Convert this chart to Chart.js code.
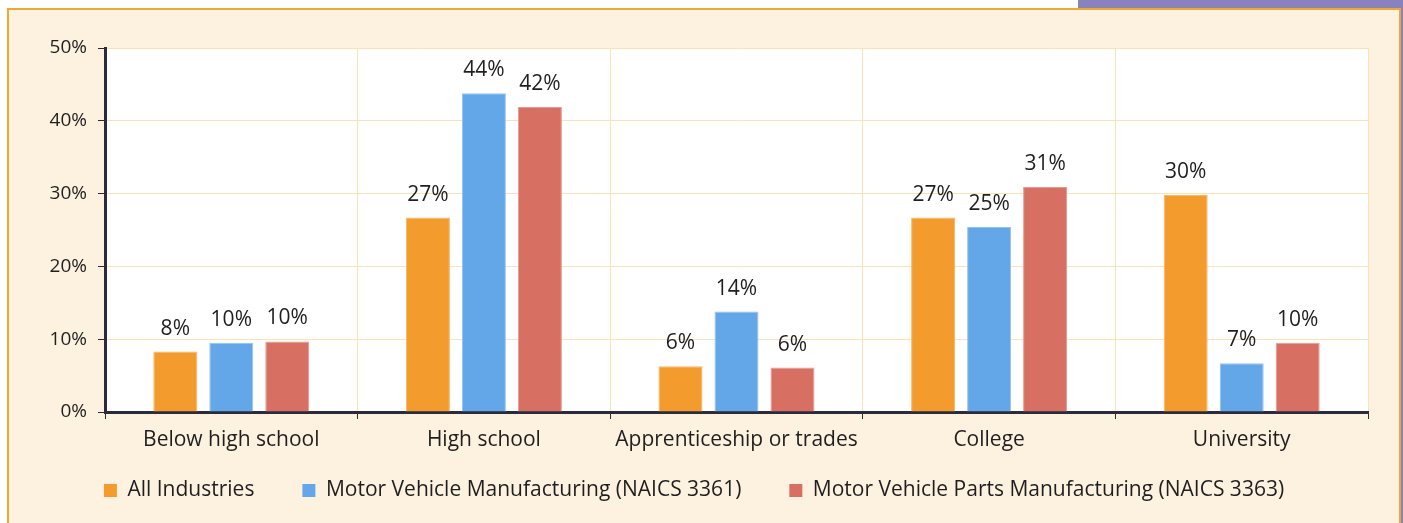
<!DOCTYPE html>
<html>
<head>
<meta charset="utf-8">
<script src="https://cdn.jsdelivr.net/npm/chart.js@4"></script>
<style>
  body { margin: 0; background: #fff; width: 1403px; height: 523px; overflow: hidden; position: relative; }
  #band { position: absolute; left: 1078px; top: 0; width: 325px; height: 523px; background: #8882bf; }
  #panel { position: absolute; left: 7px; top: 8px; width: 1390px; height: 540px; background: #fdf1e0; border: 2px solid #f0a733; }
  #wrap { position: absolute; left: 0; top: 0; width: 1403px; height: 523px; }
</style>
</head>
<body>
<div id="band"></div>
<div id="panel"></div>
<div id="wrap"><canvas id="chart"></canvas></div>
<script>
const categories = ['Below high school', 'High school', 'Apprenticeship or trades', 'College', 'University'];
const allIndustries = [8.3, 26.7, 6.3, 26.7, 29.8];
const motorVehicle = [9.5, 43.8, 13.8, 25.4, 6.7];
const motorParts = [9.7, 41.9, 6.1, 30.9, 9.5];
const yTicks = [0, 10, 20, 30, 40, 50];

const fontFamily = '"Open Sans", "Noto Sans", sans-serif';
const textColor = '#1f1f1f';

const plotBackground = {
    id: 'plotBackground',
    beforeDraw(chart) {
        const { ctx, chartArea } = chart;
        ctx.save();
        ctx.fillStyle = '#ffffff';
        ctx.fillRect(chartArea.left, chartArea.top, chartArea.right - chartArea.left, chartArea.bottom - chartArea.top);
        ctx.restore();
    }
};

const valueLabels = {
    id: 'valueLabels',
    afterDatasetsDraw(chart) {
        const { ctx } = chart;
        ctx.save();
        ctx.font = '21px ' + fontFamily;
        ctx.fillStyle = textColor;
        ctx.textAlign = 'center';
        ctx.textBaseline = 'alphabetic';
        chart.data.datasets.forEach((ds, i) => {
            chart.getDatasetMeta(i).data.forEach((bar, j) => {
                ctx.fillText(Math.round(ds.data[j]) + '%', bar.x, bar.y - 17);
            });
        });
        ctx.restore();
    }
};

const ctx = document.getElementById('chart');
new Chart(ctx, {
    type: 'bar',
    data: {
        labels: categories,
        datasets: [
            { label: 'All Industries', data: allIndustries, backgroundColor: '#f39b2c', borderColor: '#f7b567', borderWidth: 1 },
            { label: 'Motor Vehicle Manufacturing (NAICS 3361)', data: motorVehicle, backgroundColor: '#63a7e8', borderColor: '#93c3f0', borderWidth: 1 },
            { label: 'Motor Vehicle Parts Manufacturing (NAICS 3363)', data: motorParts, backgroundColor: '#d77062', borderColor: '#e49a90', borderWidth: 1 }
        ]
    },
    options: {
        responsive: true,
        maintainAspectRatio: false,
        animation: false,
        barPercentage: 0.786,
        categoryPercentage: 0.665,
        layout: { padding: { left: 20, right: 35, top: 48, bottom: 12 } },
        plugins: {
            tooltip: { enabled: false },
            legend: {
                position: 'bottom',
                labels: {
                    color: textColor,
                    font: { family: fontFamily, size: 21 },
                    boxWidth: 13,
                    boxHeight: 13,
                    padding: 48,
                    generateLabels(chart) {
                        return Chart.defaults.plugins.legend.labels.generateLabels(chart).map(l => ({ ...l, lineWidth: 0 }));
                    }
                }
            }
        },
        scales: {
            x: {
                grid: { color: '#fce2b4', tickColor: '#2b2b3b', tickLength: 7, offset: true },
                border: { color: '#2b2b3b', width: 3 },
                ticks: { color: textColor, font: { family: fontFamily, size: 21 }, padding: 8 },
                afterFit(scale) {
                    // keep the axis box short so the legend sits close; labels drawn unclipped
                    scale.height = 20;
                    scale._computeLabelArea = () => undefined;
                }
            },
            y: {
                min: 0,
                max: 50,
                grid: { color: '#fce2b4', tickColor: '#2b2b3b', tickLength: 7 },
                border: { color: '#2b2b3b', width: 3 },
                afterBuildTicks(scale) { scale.ticks = yTicks.map(v => ({ value: v })); },
                ticks: { color: textColor, font: { family: fontFamily, size: 19 }, padding: 11, callback: v => v + '%' },
                afterFit(scale) { scale.width = 85; }
            }
        }
    },
    plugins: [plotBackground, valueLabels]
});
</script>
</body>
</html>
